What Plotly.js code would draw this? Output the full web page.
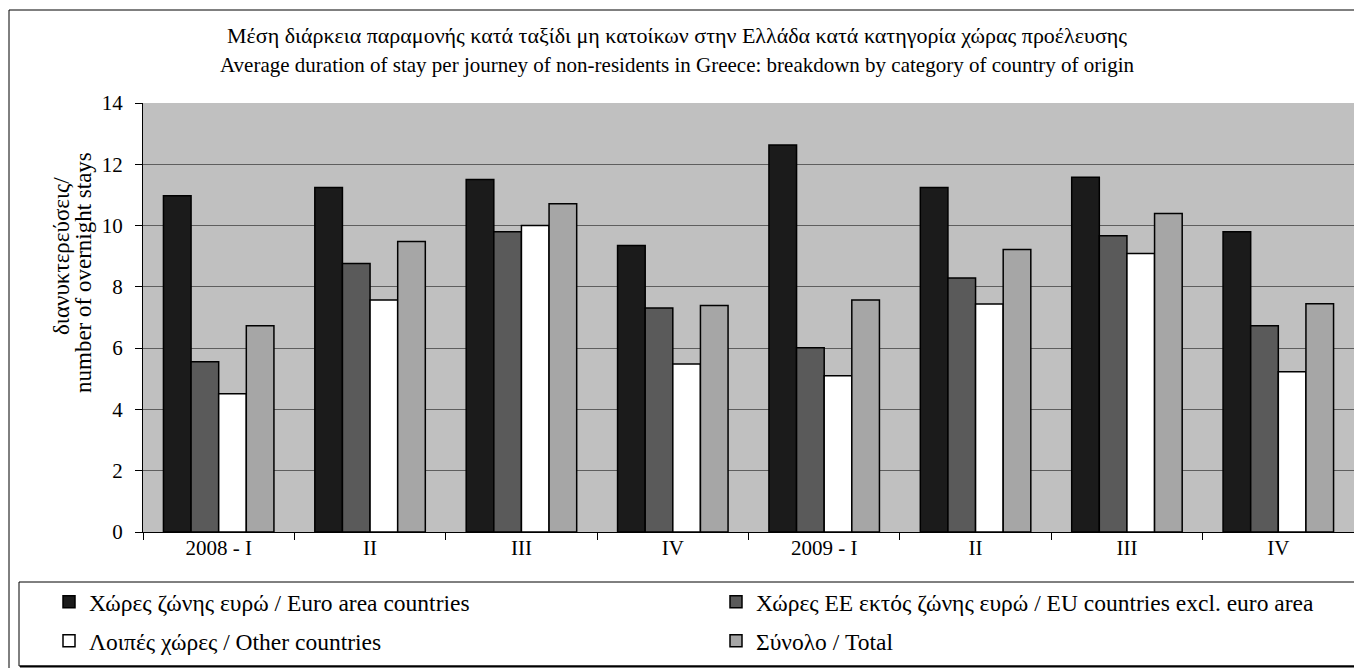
<!DOCTYPE html>
<html><head><meta charset="utf-8">
<script src="https://cdn.plot.ly/plotly-3.0.1.min.js"></script>
<style>html,body{margin:0;padding:0;background:#fff}</style>
</head><body><div id="chart" style="width:1354px;height:668px"></div>
<script>
const quarters = ['2008 - I','2008 - II','2008 - III','2008 - IV','2009 - I','2009 - II','2009 - III','2009 - IV'];
const tickLabels = ['2008 - I','II','III','IV','2009 - I','II','III','IV'];
const seriesNames = [
  'Χώρες ζώνης ευρώ / Euro area countries',
  'Χώρες ΕΕ εκτός ζώνης ευρώ / EU countries excl. euro area',
  'Λοιπές χώρες / Other countries',
  'Σύνολο / Total'
];
const euroArea = [10.97, 11.24, 11.50, 9.35, 12.63, 11.24, 11.58, 9.80];
const euExclEuro = [5.56, 8.76, 9.80, 7.31, 6.01, 8.29, 9.67, 6.73];
const otherCountries = [4.51, 7.57, 10.00, 5.48, 5.10, 7.44, 9.09, 5.23];
const total = [6.73, 9.48, 10.71, 7.39, 7.57, 9.22, 10.39, 7.45];
const yTicks = [0, 2, 4, 6, 8, 10, 12, 14];
const titleLine1 = 'Μέση διάρκεια παραμονής κατά ταξίδι μη κατοίκων στην Ελλάδα κατά κατηγορία χώρας προέλευσης';
const titleLine2 = 'Average duration of stay per journey of non-residents in Greece: breakdown by category of country of origin';
const yTitle1 = 'διανυκτερεύσεις/';
const yTitle2 = 'number of overnight stays';

const W = 1354, H = 668, ML = 143, MR = 0, MT = 103, MB = 136;
const PW = W - ML - MR, PH = H - MT - MB;
const px = x => (x - ML) / PW;
const py = y => (H - MB - y) / PH;

const colors = ['#1b1b1b', '#5a5a5a', '#ffffff', '#a6a6a6'];
const values = [euroArea, euExclEuro, otherCountries, total];
const legendIds = ['legend', 'legend2', 'legend3', 'legend4'];
const FONT = 'Liberation Serif, Times New Roman, serif';

const traces = values.map((v, i) => ({
  type: 'bar',
  x: quarters,
  y: v,
  name: seriesNames[i],
  legend: legendIds[i],
  marker: { color: colors[i], line: { color: '#000', width: 1.5 } },
  hoverinfo: 'x+y+name'
}));

function mkLegend(xText, yMid) {
  return {
    orientation: 'h', xanchor: 'left', yanchor: 'middle',
    x: px(xText - 40), y: py(yMid),
    bgcolor: 'rgba(0,0,0,0)', borderwidth: 0,
    font: { family: FONT, size: 23.5, color: '#000' }
  };
}

const layout = {
  width: W, height: H,
  margin: { l: ML, r: MR, t: MT, b: MB },
  paper_bgcolor: '#fff',
  plot_bgcolor: '#c0c0c0',
  barmode: 'group', bargap: 0.27, bargroupgap: 0,
  showlegend: true,
  title: {
    text: titleLine1,
    font: { family: FONT, size: 22, color: '#000' },
    x: px(677), xref: 'paper', xanchor: 'center',
    y: 1 - 35 / H, yref: 'container', yanchor: 'middle'
  },
  xaxis: {
    type: 'category',
    tickmode: 'array', tickvals: quarters, ticktext: tickLabels,
    tickson: 'boundaries', ticks: 'outside', ticklen: 7, tickcolor: '#000', tickwidth: 1,
    ticklabelstandoff: -3,
    showline: true, linecolor: '#000', linewidth: 1,
    showgrid: false,
    tickfont: { family: FONT, size: 21, color: '#000' }
  },
  yaxis: {
    range: [0, 14], tickmode: 'array', tickvals: yTicks,
    ticks: 'outside', ticklen: 7, tickcolor: '#000', tickwidth: 1,
    ticklabelstandoff: 8,
    showline: true, linecolor: '#000', linewidth: 1,
    showgrid: true, gridcolor: '#5e5e5e', gridwidth: 1,
    zeroline: false,
    tickfont: { family: FONT, size: 21, color: '#000' }
  },
  legend: mkLegend(89, 602),
  legend2: mkLegend(756, 602),
  legend3: mkLegend(89, 641),
  legend4: mkLegend(756, 641),
  annotations: [
    {
      text: titleLine2,
      xref: 'paper', yref: 'paper', x: px(677), y: py(65),
      xanchor: 'center', yanchor: 'middle', showarrow: false,
      font: { family: FONT, size: 21, color: '#000' }
    },
    {
      text: yTitle1,
      xref: 'paper', yref: 'paper', x: px(61), y: py(256),
      xanchor: 'center', yanchor: 'middle', textangle: -90, showarrow: false,
      font: { family: FONT, size: 23, color: '#000' }
    },
    {
      text: yTitle2,
      xref: 'paper', yref: 'paper', x: px(83), y: py(273),
      xanchor: 'center', yanchor: 'middle', textangle: -90, showarrow: false,
      font: { family: FONT, size: 23, color: '#000' }
    }
  ],
  shapes: [
    { type: 'rect', xref: 'paper', yref: 'paper', x0: px(9), x1: px(1360), y0: py(10), y1: py(672),
      line: { color: '#000', width: 1 }, fillcolor: 'rgba(0,0,0,0)', layer: 'below' },
    { type: 'rect', xref: 'paper', yref: 'paper', x0: px(19), x1: px(1360), y0: py(582), y1: py(666),
      line: { color: '#000', width: 1 }, fillcolor: 'rgba(0,0,0,0)', layer: 'below' },
    { type: 'line', xref: 'paper', yref: 'paper', x0: px(20), x1: px(1360), y0: py(666.5), y1: py(666.5),
      line: { color: '#000', width: 2 } }
  ]
};

Plotly.newPlot('chart', traces, layout, { displayModeBar: false, responsive: false });
</script>
</body></html>
